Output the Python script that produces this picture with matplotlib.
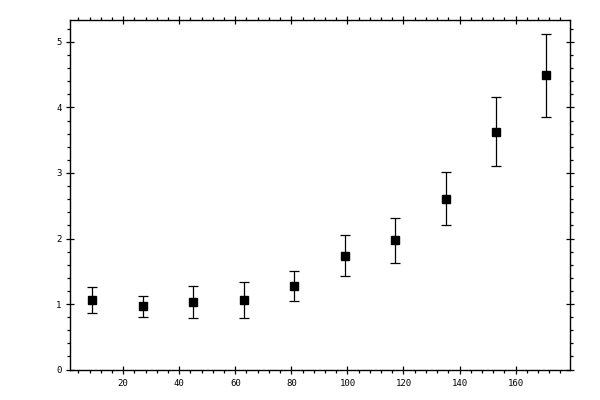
import matplotlib
matplotlib.use('Agg')
import matplotlib.pyplot as plt
from matplotlib.ticker import MultipleLocator

# data
x = [9, 27, 45, 63, 81, 99, 117, 135, 153, 171]
y = [1.06, 0.97, 1.03, 1.06, 1.28, 1.74, 1.97, 2.61, 3.63, 4.49]
yerr = [0.20, 0.16, 0.24, 0.27, 0.23, 0.31, 0.35, 0.40, 0.53, 0.63]

fig = plt.figure(figsize=(6, 4), dpi=100)
ax = fig.add_axes([0.116, 0.076, 0.8345, 0.875])

ax.errorbar(x, y, yerr=yerr, fmt='s', color='black', markersize=5.5,
            elinewidth=0.9, capsize=3.6, capthick=0.9)

ax.set_xlim(0.9, 179.5)
ax.set_ylim(0, 5.34)

ax.xaxis.set_major_locator(MultipleLocator(20))
ax.xaxis.set_minor_locator(MultipleLocator(4))
ax.yaxis.set_major_locator(MultipleLocator(1))
ax.yaxis.set_minor_locator(MultipleLocator(0.2))

ax.tick_params(which='major', direction='inout', length=5.8, width=0.9,
               top=True, right=True, labelsize=6.5)
ax.tick_params(which='minor', direction='out', length=2.4, width=0.9,
               top=True, right=True)
ax.tick_params(axis='x', which='major', pad=4)
ax.tick_params(axis='y', which='major', pad=3)

for lab in ax.get_xticklabels() + ax.get_yticklabels():
    lab.set_family('DejaVu Sans Mono')

for s in ax.spines.values():
    s.set_linewidth(1.0)

fig.savefig('out.png', dpi=100)
